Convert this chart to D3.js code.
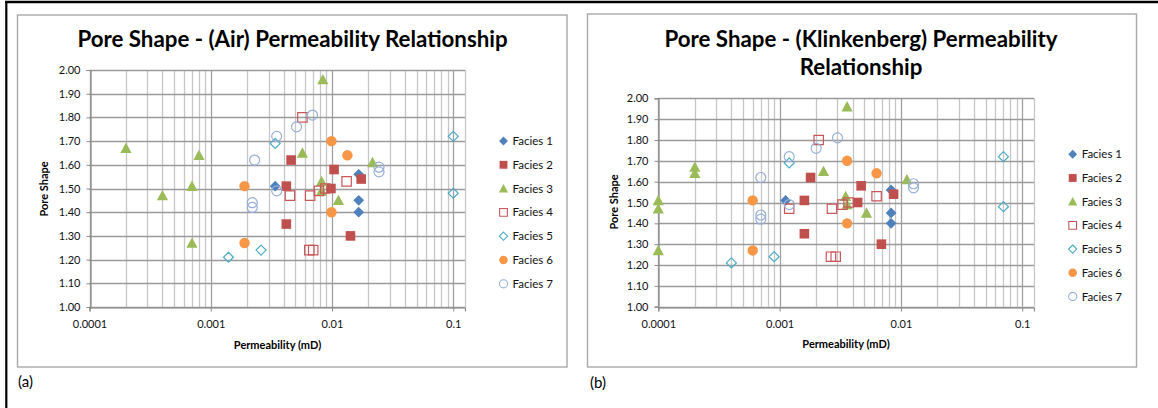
<!DOCTYPE html>
<html>
<head>
<meta charset="utf-8">
<script src="https://cdn.jsdelivr.net/npm/d3@7"></script>
<style>
  html, body { margin: 0; padding: 0; background: #ffffff; }
  svg { display: block; font-family: Lato, "Open Sans", sans-serif; }
</style>
</head>
<body>
<svg id="fig" width="1158" height="408"></svg>
<script>
// ---- data -------------------------------------------------------------
const faciesNames = ["Facies 1", "Facies 2", "Facies 3", "Facies 4", "Facies 5", "Facies 6", "Facies 7"];

// pore shape of each sample, with its air and Klinkenberg permeability (mD)
const f1Shape = [1.51, 1.56, 1.45, 1.40];
const f1Air   = [0.0034, 0.0166, 0.0166, 0.0166];
const f1Klink = [0.00112, 0.0083, 0.0083, 0.0083];

const f2Shape = [1.62, 1.51, 1.35, 1.58, 1.50, 1.54, 1.30];
const f2Air   = [0.0046, 0.0042, 0.0042, 0.0104, 0.0098, 0.0174, 0.0142];
const f2Klink = [0.0018, 0.0016, 0.0016, 0.0047, 0.0044, 0.0087, 0.0069];

const f3Shape = [1.67, 1.47, 1.51, 1.27, 1.64, 1.65, 1.96, 1.53, 1.49, 1.45, 1.61];
const f3Air   = [0.0002, 0.0004, 0.0007, 0.0007, 0.0008, 0.0057, 0.0084, 0.0082, 0.0082, 0.0113, 0.0216];
const f3Klink = [0.0002, 0.0001, 0.0001, 0.0001, 0.0002, 0.0023, 0.0036, 0.0035, 0.0036, 0.0052, 0.0112];

const f4Shape = [1.80, 1.47, 1.47, 1.49, 1.50, 1.53, 1.24, 1.24];
const f4Air   = [0.0057, 0.0045, 0.0066, 0.0078, 0.0088, 0.0132, 0.0065, 0.0070];
const f4Klink = [0.0021, 0.0012, 0.0027, 0.0033, 0.0037, 0.0063, 0.00265, 0.0029];

const f5Shape = [1.69, 1.21, 1.24, 1.72, 1.48];
const f5Air   = [0.0034, 0.0014, 0.0026, 0.1, 0.1];
const f5Klink = [0.0012, 0.0004, 0.0009, 0.07, 0.07];

const f6Shape = [1.51, 1.27, 1.70, 1.64, 1.40];
const f6Air   = [0.0019, 0.0019, 0.0099, 0.0134, 0.0099];
const f6Klink = [0.0006, 0.0006, 0.0036, 0.0063, 0.0036];

const f7Shape = [1.62, 1.72, 1.76, 1.81, 1.44, 1.42, 1.49, 1.59, 1.57];
const f7Air   = [0.0023, 0.0035, 0.0051, 0.0069, 0.0022, 0.0022, 0.0035, 0.0244, 0.0244];
const f7Klink = [0.0007, 0.0012, 0.0020, 0.0030, 0.0007, 0.0007, 0.0012, 0.0127, 0.0127];

const yTickValues = [1.0, 1.1, 1.2, 1.3, 1.4, 1.5, 1.6, 1.7, 1.8, 1.9, 2.0];
const xTickValues = [0.0001, 0.001, 0.01, 0.1];
const xTickLabels = ["0.0001", "0.001", "0.01", "0.1"];
const xDomain = [0.0001, 0.125];
const yDomain = [1, 2];

// ---- series styling ---------------------------------------------------
const seriesStyle = [
  { kind: "diamond",  fill: "#4F81BD", stroke: "none",    r: 5.4 },
  { kind: "square",   fill: "#C0504D", stroke: "none",    r: 4.8 },
  { kind: "triangle", fill: "#9BBB59", stroke: "none",    r: 5.6 },
  { kind: "square",   fill: "none",    stroke: "#C9575A", r: 4.7 },
  { kind: "diamond",  fill: "none",    stroke: "#4BACC6", r: 5.0 },
  { kind: "circle",   fill: "#F79646", stroke: "none",    r: 5.2 },
  { kind: "circle",   fill: "none",    stroke: "#98AFD8", r: 5.0 }
];

function markerPath(kind, r) {
  const p = d3.path();
  if (kind === "diamond") {
    p.moveTo(0, -r); p.lineTo(r, 0); p.lineTo(0, r); p.lineTo(-r, 0); p.closePath();
  } else if (kind === "square") {
    p.rect(-r, -r, 2 * r, 2 * r);
  } else if (kind === "triangle") {
    p.moveTo(0, -r); p.lineTo(r, r * 0.85); p.lineTo(-r, r * 0.85); p.closePath();
  } else {
    p.arc(0, 0, r, 0, 2 * Math.PI);
  }
  return p.toString();
}

function buildSeries(perms) {
  const shapes = [f1Shape, f2Shape, f3Shape, f4Shape, f5Shape, f6Shape, f7Shape];
  return shapes.map((s, i) => s.map((v, j) => ({ shape: v, perm: perms[i][j] })));
}

const airSeries = buildSeries([f1Air, f2Air, f3Air, f4Air, f5Air, f6Air, f7Air]);
const klinkSeries = buildSeries([f1Klink, f2Klink, f3Klink, f4Klink, f5Klink, f6Klink, f7Klink]);

// ---- drawing ----------------------------------------------------------
const svg = d3.select("#fig");

// page frame lines
svg.append("line").attr("x1", 5).attr("x2", 1158).attr("y1", 2).attr("y2", 2)
  .attr("stroke", "#000").attr("stroke-width", 2.6);
svg.append("line").attr("x1", 6.3).attr("x2", 6.3).attr("y1", 1).attr("y2", 408)
  .attr("stroke", "#000").attr("stroke-width", 2.2);

function drawPanel(cfg, series) {
  const g = svg.append("g");

  // chart area frame
  g.append("rect")
    .attr("x", cfg.box[0]).attr("y", cfg.box[1])
    .attr("width", cfg.box[2]).attr("height", cfg.box[3])
    .attr("fill", "#fff").attr("stroke", "#A9A9A9").attr("stroke-width", 1.4);

  const x = d3.scaleLog().domain(xDomain).range(cfg.xRange);
  const y = d3.scaleLinear().domain(yDomain).range(cfg.yRange);
  const [x0, x1] = cfg.xRange;
  const [yb, yt] = cfg.yRange;

  // minor vertical grid
  const minor = [];
  for (let e = -4; e <= -1; e++) {
    for (let k = 2; k <= 9; k++) {
      const v = k * Math.pow(10, e);
      if (v < xDomain[1]) minor.push(v);
    }
  }
  const px = v => Math.round(v) + 0.5;
  g.append("g").selectAll("line").data(minor).join("line")
    .attr("x1", d => px(x(d))).attr("x2", d => px(x(d)))
    .attr("y1", yt).attr("y2", yb)
    .attr("stroke", "#C6C6C6").attr("stroke-width", 1.3);

  // right edge of plot area
  g.append("line").attr("x1", px(x1)).attr("x2", px(x1)).attr("y1", yt).attr("y2", yb)
    .attr("stroke", "#C6C6C6").attr("stroke-width", 1.3);

  // major vertical grid
  g.append("g").selectAll("line").data(xTickValues).join("line")
    .attr("x1", d => px(x(d))).attr("x2", d => px(x(d)))
    .attr("y1", yt).attr("y2", yb)
    .attr("stroke", "#A0A0A0").attr("stroke-width", 1.3);

  // horizontal grid
  g.append("g").selectAll("line").data(yTickValues).join("line")
    .attr("x1", x0).attr("x2", x1)
    .attr("y1", d => px(y(d))).attr("y2", d => px(y(d)))
    .attr("stroke", "#9A9A9A").attr("stroke-width", 1.4);

  // axes
  const yAxis = d3.axisLeft(y).tickValues(yTickValues).tickSize(4).tickPadding(6)
    .tickFormat(d3.format(".2f"));
  const ya = g.append("g").attr("transform", `translate(${px(x0)},0)`).call(yAxis);
  const xAxis = d3.axisBottom(x).tickValues(xTickValues).tickSize(4).tickPadding(9)
    .tickFormat((d, i) => xTickLabels[i]);
  const xa = g.append("g").attr("transform", `translate(0,${px(yb)})`).call(xAxis);
  [ya, xa].forEach(a => {
    a.select(".domain").attr("stroke", "#8A8A8A").attr("stroke-width", 1.2);
    a.selectAll(".tick line").attr("stroke", "#8A8A8A");
    a.selectAll("text").attr("font-family", "Lato, sans-serif").attr("font-size", 11)
      .attr("fill", "#111");
  });

  // markers
  series.forEach((pts, i) => {
    const st = seriesStyle[i];
    g.append("g").selectAll("path").data(pts).join("path")
      .attr("transform", d => `translate(${x(d.perm)},${y(d.shape)})`)
      .attr("d", markerPath(st.kind, st.r))
      .attr("fill", st.fill).attr("stroke", st.stroke).attr("stroke-width", 1.2);
  });

  // titles
  cfg.title.forEach((line, i) => {
    g.append("text").attr("x", cfg.titleX).attr("y", cfg.titleY + i * 28.5)
      .attr("text-anchor", "middle").attr("font-weight", "bold")
      .attr("font-size", cfg.titleSize).attr("fill", "#000").text(line);
  });
  g.append("text").attr("x", cfg.xLabel[0]).attr("y", cfg.xLabel[1])
    .attr("text-anchor", "middle").attr("font-weight", "bold").attr("font-size", 11)
    .attr("fill", "#000").text("Permeability (mD)");
  g.append("text")
    .attr("transform", `translate(${cfg.yLabel[0]},${cfg.yLabel[1]}) rotate(-90)`)
    .attr("text-anchor", "middle").attr("font-weight", "bold").attr("font-size", 11)
    .attr("fill", "#000").text("Pore Shape");

  // legend
  const lg = g.append("g").selectAll("g").data(faciesNames).join("g")
    .attr("transform", (d, i) => `translate(${cfg.legend[0]},${cfg.legend[1] + i * cfg.legend[2]})`);
  lg.append("path")
    .attr("d", (d, i) => markerPath(seriesStyle[i].kind, seriesStyle[i].r * 0.82))
    .attr("fill", (d, i) => seriesStyle[i].fill)
    .attr("stroke", (d, i) => seriesStyle[i].stroke).attr("stroke-width", 1.1);
  lg.append("text").attr("x", 9).attr("dy", "0.35em").attr("font-size", 11.5)
    .attr("fill", "#111").text(d => d);

  // panel letter
  g.append("text").attr("x", cfg.letter[0]).attr("y", cfg.letter[1])
    .attr("font-size", 15).attr("fill", "#000").text(cfg.letter[2]);
}

drawPanel({
  box: [17.5, 15, 549.5, 352],
  xRange: [89.5, 465], yRange: [307, 70],
  title: ["Pore Shape - (Air) Permeability Relationship"],
  titleX: 292.5, titleY: 47, titleSize: 22.3,
  xLabel: [277.5, 349], yLabel: [48, 189],
  legend: [503.5, 141, 23.8],
  letter: [18, 387, "(a)"]
}, airSeries);

drawPanel({
  box: [587.5, 14, 549, 353],
  xRange: [658.3, 1034], yRange: [306.7, 98.3],
  title: ["Pore Shape - (Klinkenberg) Permeability", "Relationship"],
  titleX: 861, titleY: 46.5, titleSize: 22.3,
  xLabel: [846, 348], yLabel: [617.5, 202],
  legend: [1072.7, 154.3, 23.7],
  letter: [590, 388, "(b)"]
}, klinkSeries);
</script>
</body>
</html>
